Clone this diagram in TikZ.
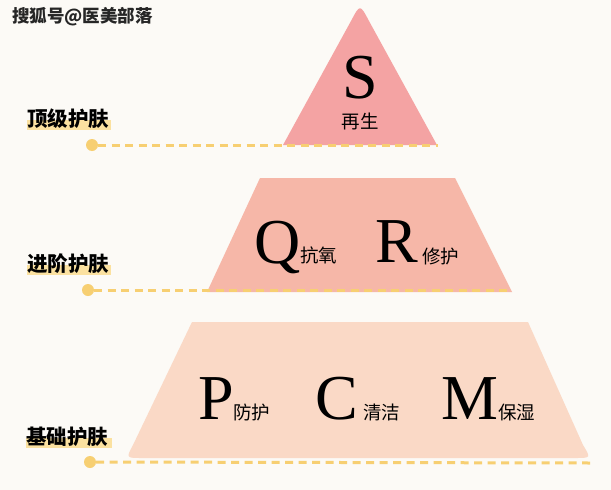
\documentclass[tikz,border=0pt]{standalone}
\usepackage{fontspec}
\setmainfont{Liberation Serif}
\newfontfamily\cjk{Noto Sans CJK SC}
\definecolor{bgc}{HTML}{FCFAF6}
\definecolor{tierA}{HTML}{F4A3A3}
\definecolor{tierB}{HTML}{F6B7A8}
\definecolor{tierC}{HTML}{FAD9C6}
\definecolor{ylw}{HTML}{F7CF72}
\definecolor{hilite}{HTML}{FBE1A0}
\begin{document}
\begin{tikzpicture}[x=1pt,y=-1pt,
  big/.style={inner sep=0pt,anchor=base,font=\fontsize{64}{64}\selectfont},
  small/.style={inner sep=0pt,font=\cjk\fontsize{18.5}{18.5}\selectfont},
  lvl/.style={inner sep=0pt,anchor=west,font=\cjk\bfseries\fontsize{20.5}{20.5}\selectfont},
  dotnode/.style={circle,fill=ylw,inner sep=0pt,minimum size=12pt},
  guide/.style={draw=ylw,line width=3pt,dash pattern=on 8pt off 5.5pt},
  hl/.style={fill=hilite}]
\fill[bgc] (0,0) rectangle (611,490);
\useasboundingbox (0,0) rectangle (611,490);
% watermark
\node[inner sep=0pt,anchor=west,font=\cjk\bfseries\fontsize{17.5}{17.5}\selectfont,text=black!85] (wm) at (12,17) {搜狐号@医美部落};
% tiers
\fill[tierA] (283,145) -- (351,21) .. controls (360,4) .. (369,21) -- (437,145) -- cycle;
\fill[tierB] (207,292) -- (260,178) -- (455,178) -- (512,292) -- cycle;
\fill[tierC] (192,322) -- (528,322) -- (583,445) .. controls (591,458) .. (575,458)
  -- (142,458) .. controls (126,458) .. (133,445) -- cycle;
% level labels with highlight
\fill[hl] (27,120) rectangle (111,130);
\node[lvl] (l1) at (27,119) {顶级护肤};
\fill[hl] (27,265) rectangle (111,275);
\node[lvl] (l2) at (27,264) {进阶护肤};
\fill[hl] (26,438) rectangle (112,448);
\node[lvl] (l3) at (26,437) {基础护肤};
% guides
\node[dotnode] (d1) at (92,145) {};
\coordinate (e1) at (438,145);
\draw[guide] (d1.east) -- (e1);
\node[dotnode] (d2) at (88,290) {};
\coordinate (e2) at (511,290);
\draw[guide] (d2.east) -- (e2);
\node[dotnode] (d3) at (90,462) {};
\coordinate (e3) at (590,463);
\draw[guide] (d3.east) -- (e3);
% texts tier 1
\node[big] (S) at (360,98) {S};
\node[small] (s1) at (360,121) {再生};
% tier 2
\node[big] (Q) at (278,263) {Q};
\node[small,anchor=west] (q1) at (300,255) {抗氧};
\node[big] (R) at (397,262) {R};
\node[small,anchor=west] (r1) at (422,256) {修护};
% tier 3
\node[big] (P) at (216,419) {P};
\node[small,anchor=west] (p1) at (233,412) {防护};
\node[big] (C) at (337,419) {C};
\node[small,anchor=west] (c1) at (363,412) {清洁};
\node[big] (M) at (470,419) {M};
\node[small,anchor=west] (m1) at (498,412) {保湿};
\end{tikzpicture}
\end{document}
